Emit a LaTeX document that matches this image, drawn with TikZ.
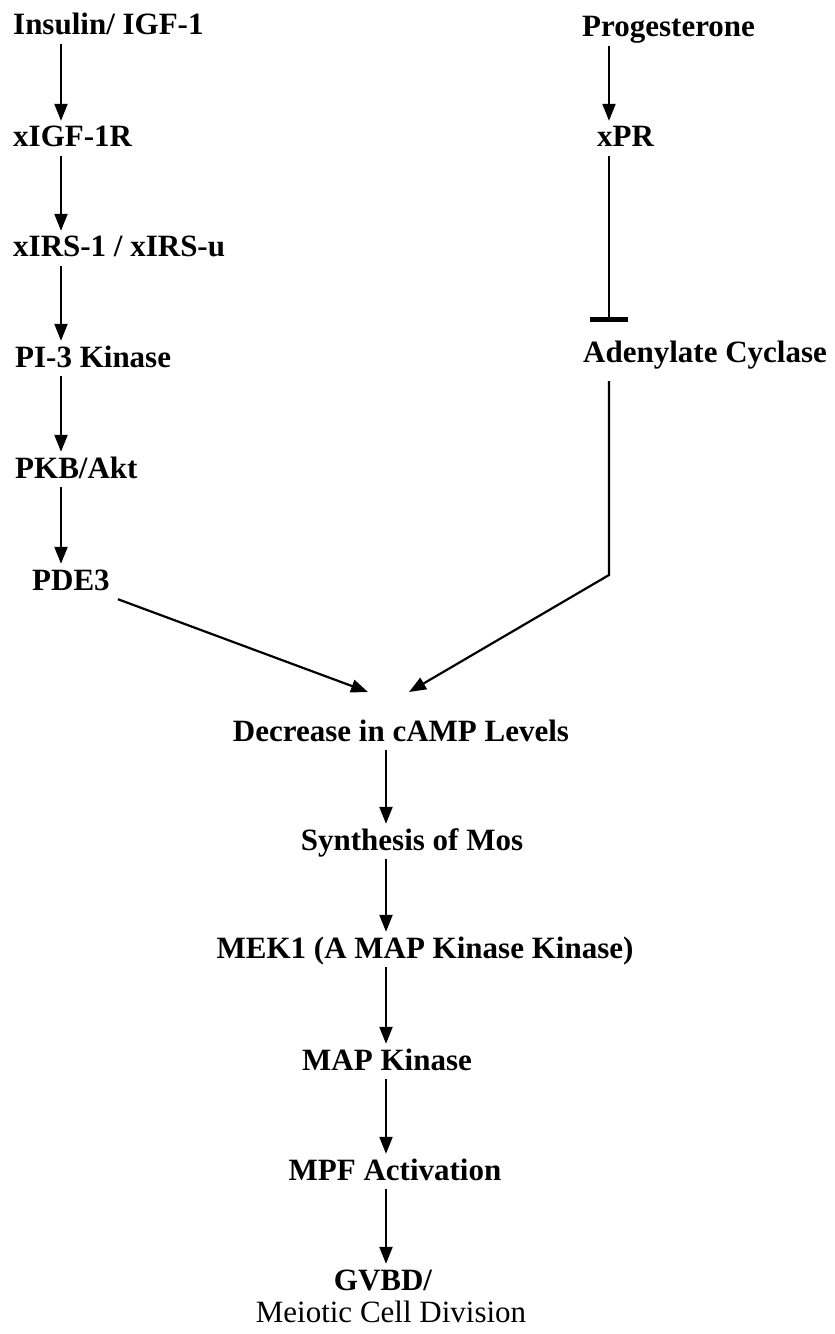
\documentclass[tikz,border=0pt]{standalone}
\usepackage{fontspec}
\setmainfont{Liberation Serif}
\usetikzlibrary{arrows.meta,positioning}

\begin{document}
\begin{tikzpicture}[x=1bp,y=-1bp,
  lbl/.style={inner sep=0pt,text height=26bp,text depth=9bp,font=\fontsize{31bp}{36bp}\selectfont\bfseries},
  act/.style={line width=2.2bp,-{Triangle[length=17bp,width=13bp]}},
  inh/.style={line width=2.2bp,-{Bar[width=38bp,line width=4.5bp]},shorten >=14bp}]
  \useasboundingbox (0,0) rectangle (834,1334);
  \coordinate (colL) at (61,0);
  \coordinate (colC) at (386,0);
  \coordinate (colR) at (609,0);
  % insulin branch
  \node[lbl,anchor=base west] (ins) at (13,35) {Insulin/ IGF-1};
  \node[lbl,anchor=base west] (igf) at (13,147) {xIGF-1R};
  \node[lbl,anchor=base west] (irs) at (13,257) {xIRS-1 / xIRS-u};
  \node[lbl,anchor=base west] (pik) at (15,367) {PI-3 Kinase};
  \node[lbl,anchor=base west] (pkb) at (15,478) {PKB/Akt};
  \node[lbl,anchor=base west] (pde) at (32,590) {PDE3};
  % progesterone branch
  \node[lbl,anchor=base west] (prog) at (582,37) {Progesterone};
  \node[lbl,anchor=base west] (xpr) at (597,147) {xPR};
  \node[lbl,anchor=base west] (ac) at (583,362) {Adenylate Cyclase};
  % common pathway
  \node[lbl,anchor=base] (dec) at (401,741) {Decrease in cAMP Levels};
  \node[lbl,anchor=base] (mos) at (412,850) {Synthesis of Mos};
  \node[lbl,anchor=base] (mek) at (425,958) {MEK1 (A MAP Kinase Kinase)};
  \node[lbl,anchor=base] (mapk) at (387,1070) {MAP Kinase};
  \node[lbl,anchor=base] (mpf) at (395,1180) {MPF Activation};
  \node[lbl,anchor=base] (gvbd) at (383,1290) {GVBD/};
  \node[lbl,anchor=base,font=\fontsize{31bp}{36bp}\selectfont\mdseries] (mcd) at (391,1322) {Meiotic Cell Division};

  \foreach \a/\b in {ins/igf,igf/irs,irs/pik,pik/pkb,pkb/pde}
    \draw[act] (\a.south -| colL) -- (\b.north -| colL);
  \foreach \a/\b in {dec/mos,mos/mek,mek/mapk,mapk/mpf,mpf/gvbd}
    \draw[act] (\a.south -| colC) -- (\b.north -| colC);
  \draw[act] (prog.south -| colR) -- (xpr.north -| colR);
  \draw[inh] (xpr.south -| colR) -- (ac.north -| colR);

  \coordinate (bendR) at (609,575);
  \coordinate (tipL) at (368,692);
  \coordinate (tipR) at (409,692);
  \draw[act,shorten <=10bp] (ac.south -| colR) -- (bendR) -- (tipR);
  \draw[act] ([xshift=8bp]pde.south east) -- (tipL);
\end{tikzpicture}
\end{document}
